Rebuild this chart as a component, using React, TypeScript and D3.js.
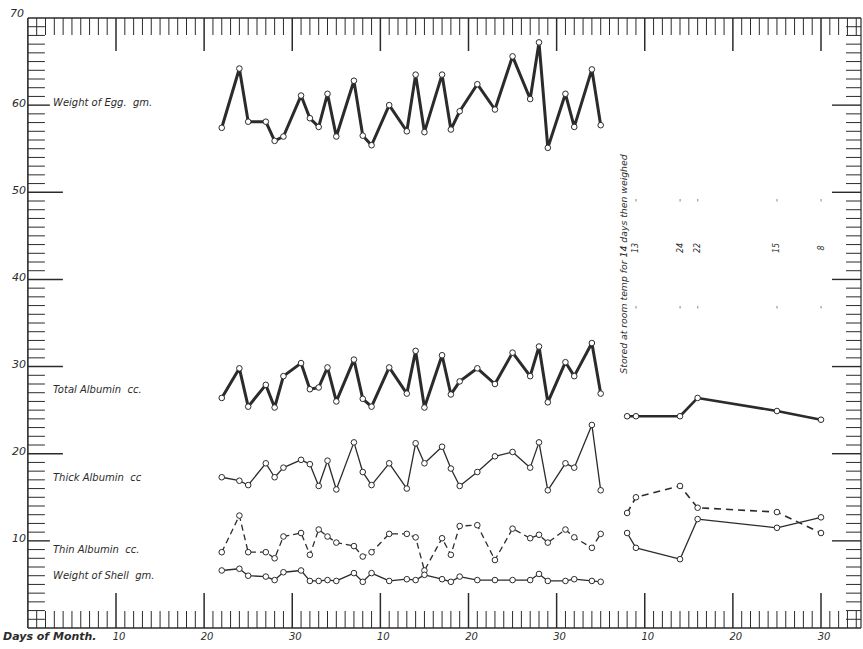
import * as d3 from 'd3';

// days counted continuously across the months (40 = the 10th of the 2nd month, etc.)
const days = [22, 24, 25, 27, 28, 29, 31, 32, 33, 34, 35, 37, 38, 39, 41, 43, 44, 45, 47, 48, 49, 51, 53, 55, 57, 58, 59, 61, 62, 64, 65];
const eggWeight = [57.4, 64.2, 58.1, 58.1, 55.9, 56.4, 61.1, 58.5, 57.5, 61.3, 56.4, 62.8, 56.5, 55.4, 60.0, 57.0, 63.5, 56.9, 63.5, 57.2, 59.3, 62.4, 59.5, 65.6, 60.7, 67.2, 55.1, 61.3, 57.5, 64.1, 57.7];
const totalAlbumin = [26.4, 29.8, 25.4, 27.9, 25.3, 28.9, 30.4, 27.4, 27.6, 29.9, 26.0, 30.8, 26.3, 25.4, 29.9, 26.9, 31.8, 25.3, 31.3, 26.8, 28.3, 29.8, 28.0, 31.6, 28.9, 32.3, 25.9, 30.5, 28.9, 32.7, 26.9];
const thickAlbumin = [17.3, 16.9, 16.4, 18.9, 17.3, 18.4, 19.3, 18.8, 16.3, 19.2, 15.9, 21.3, 17.9, 16.4, 18.9, 16.0, 21.2, 18.9, 20.8, 18.3, 16.3, 17.9, 19.7, 20.2, 18.4, 21.3, 15.8, 18.9, 18.4, 23.3, 15.8];
const thinAlbumin = [8.7, 12.9, 8.7, 8.7, 8.0, 10.5, 10.9, 8.4, 11.3, 10.5, 9.8, 9.4, 8.2, 8.7, 10.8, 10.8, 10.4, 6.6, 10.3, 8.4, 11.7, 11.8, 7.8, 11.4, 10.3, 10.7, 9.8, 11.3, 10.4, 9.2, 10.8];
const shellWeight = [6.6, 6.8, 6.0, 5.9, 5.5, 6.4, 6.6, 5.4, 5.4, 5.5, 5.4, 6.3, 5.3, 6.3, 5.4, 5.6, 5.5, 6.1, 5.6, 5.3, 5.9, 5.5, 5.5, 5.5, 5.5, 6.2, 5.4, 5.4, 5.6, 5.4, 5.3];

// eggs stored at room temp for 14 days, then weighed
const storedDays = [68, 69, 74, 76, 85, 90];
const storedTotal = [24.3, 24.3, 24.3, 26.4, 24.9, 23.9];
const storedThick = [10.9, 9.2, 7.9, 12.5, 11.5, 12.7];
const storedThin = [13.2, 15.0, 16.3, 13.8, 13.3, 10.9];
const storedCountDays = [69, 74, 76, 85, 90];
const storedCounts = ['13', '24', '22', '15', '8'];

const dayTicks = [10, 20, 30, 40, 50, 60, 70, 80, 90];
const dayTickLabels = ['10', '20', '30', '10', '20', '30', '10', '20', '30'];
const valueTicks = [10, 20, 30, 40, 50, 60, 70];

const ink = '#2b2b2b';
const hand = "'DejaVu Sans', sans-serif";

export default function App() {
  const x = d3.scaleLinear().domain([10, 90]).range([116, 821]);
  const y = d3.scaleLinear().domain([0, 70]).range([628, 18]);
  const left = x(0);
  const right = 861;
  const top = y(70);
  const bottom = y(0);

  const line = (ds: number[], vs: number[]) =>
    d3.line<number>().x((_, i) => x(ds[i])).y((v) => y(v))(vs) || '';

  const series = [
    { ds: days, vs: eggWeight, w: 3, dash: null },
    { ds: days, vs: totalAlbumin, w: 3, dash: null },
    { ds: days, vs: thickAlbumin, w: 1.3, dash: null },
    { ds: days, vs: thinAlbumin, w: 1.3, dash: '6,4' },
    { ds: days, vs: shellWeight, w: 1.3, dash: null },
    { ds: storedDays, vs: storedTotal, w: 2.6, dash: null },
    { ds: storedDays, vs: storedThick, w: 1.3, dash: null },
    { ds: storedDays, vs: storedThin, w: 1.6, dash: '7,5' },
  ];

  const seriesLabels = [
    { text: 'Weight of Egg.  gm.', y: 102 },
    { text: 'Total Albumin  cc.', y: 389 },
    { text: 'Thick Albumin  cc', y: 477 },
    { text: 'Thin Albumin  cc.', y: 549 },
    { text: 'Weight of Shell  gm.', y: 575 },
  ];

  const dayGrid = d3.range(1, 95);
  const valueGrid = d3.range(1, 70);

  return (
    <svg width={863} height={649} style={{ position: 'absolute', left: 0, top: 0, background: '#fff' }}>
      <g stroke={ink} fill="none">
        {/* frame */}
        <line x1={left} x2={right} y1={top} y2={top} strokeWidth={1.6} />
        <line x1={left} x2={right} y1={bottom} y2={bottom} strokeWidth={1.4} />
        <line x1={left} x2={left} y1={top} y2={bottom} strokeWidth={1.6} />
        <line x1={right} x2={right} y1={top} y2={bottom} strokeWidth={1.2} />

        {/* day ticks, top and bottom */}
        {dayGrid.map((t) => {
          const major = t % 10 === 0;
          return (
            <g key={'d' + t}>
              <line x1={x(t)} x2={x(t)} y1={top} y2={top + (major ? 33 : 17)} strokeWidth={major ? 1.5 : 1} />
              <line x1={x(t)} x2={x(t)} y1={bottom} y2={bottom - (major ? 35 : 17)} strokeWidth={major ? 1.5 : 1} />
            </g>
          );
        })}

        {/* value ticks, left and right */}
        {valueGrid.map((v) => {
          const major = v % 10 === 0;
          const longLeft = major && v >= 20 && v <= 50;
          return (
            <g key={'v' + v}>
              <line x1={left} x2={left + (longLeft ? 35 : major ? 22 : 17)} y1={y(v)} y2={y(v)} strokeWidth={major ? 1.4 : 1} />
              <line x1={right} x2={right - (major ? 29 : 15)} y1={y(v)} y2={y(v)} strokeWidth={major ? 1.4 : 1} />
            </g>
          );
        })}
      </g>

      {/* axis labels */}
      <g fill={ink} fontFamily={hand} fontStyle="italic" fontSize={11}>
        {valueTicks.map((v) => (
          <text key={'vl' + v} x={v === 70 ? 24 : 26} y={y(v) - (v === 70 ? 5 : 2)} textAnchor="end" dominantBaseline="central">
            {v}
          </text>
        ))}
        {dayTicks.map((t, i) => (
          <text key={'dl' + t} x={x(t) + 3} y={640} textAnchor="middle" fontSize={10}>
            {dayTickLabels[i]}
          </text>
        ))}
        <text x={3} y={640} fontSize={11} fontWeight="bold">Days of Month.</text>
        {seriesLabels.map((s) => (
          <text key={s.text} x={53} y={s.y} dominantBaseline="central" fontSize={10} xmlSpace="preserve">
            {s.text}
          </text>
        ))}
        <text
          transform={`translate(623, 264) rotate(-90)`}
          textAnchor="middle"
          dominantBaseline="central"
          fontSize={9.3}
        >
          Stored at room temp for 14 days then weighed
        </text>
        {storedCountDays.map((t, i) => (
          <text key={'c' + t} transform={`translate(${x(t)}, 248) rotate(-90)`} textAnchor="middle" dominantBaseline="central" fontSize={8}>
            {storedCounts[i]}
          </text>
        ))}
      </g>
      <g fill="#999">
        {storedCountDays.map((t) => (
          <g key={'m' + t}>
            <rect x={x(t) - 0.5} y={199} width={1.2} height={2.5} />
            <rect x={x(t) - 0.5} y={306} width={1.2} height={2.5} />
          </g>
        ))}
      </g>

      {/* data */}
      {series.map((s, k) => (
        <g key={'s' + k}>
          <path d={line(s.ds, s.vs)} fill="none" stroke={ink} strokeWidth={s.w} strokeLinejoin="round" strokeDasharray={s.dash || undefined} />
          {s.vs.map((v, i) => (
            <circle key={i} cx={x(s.ds[i])} cy={y(v)} r={2.8} fill="#fff" stroke={ink} strokeWidth={1} />
          ))}
        </g>
      ))}
    </svg>
  );
}
